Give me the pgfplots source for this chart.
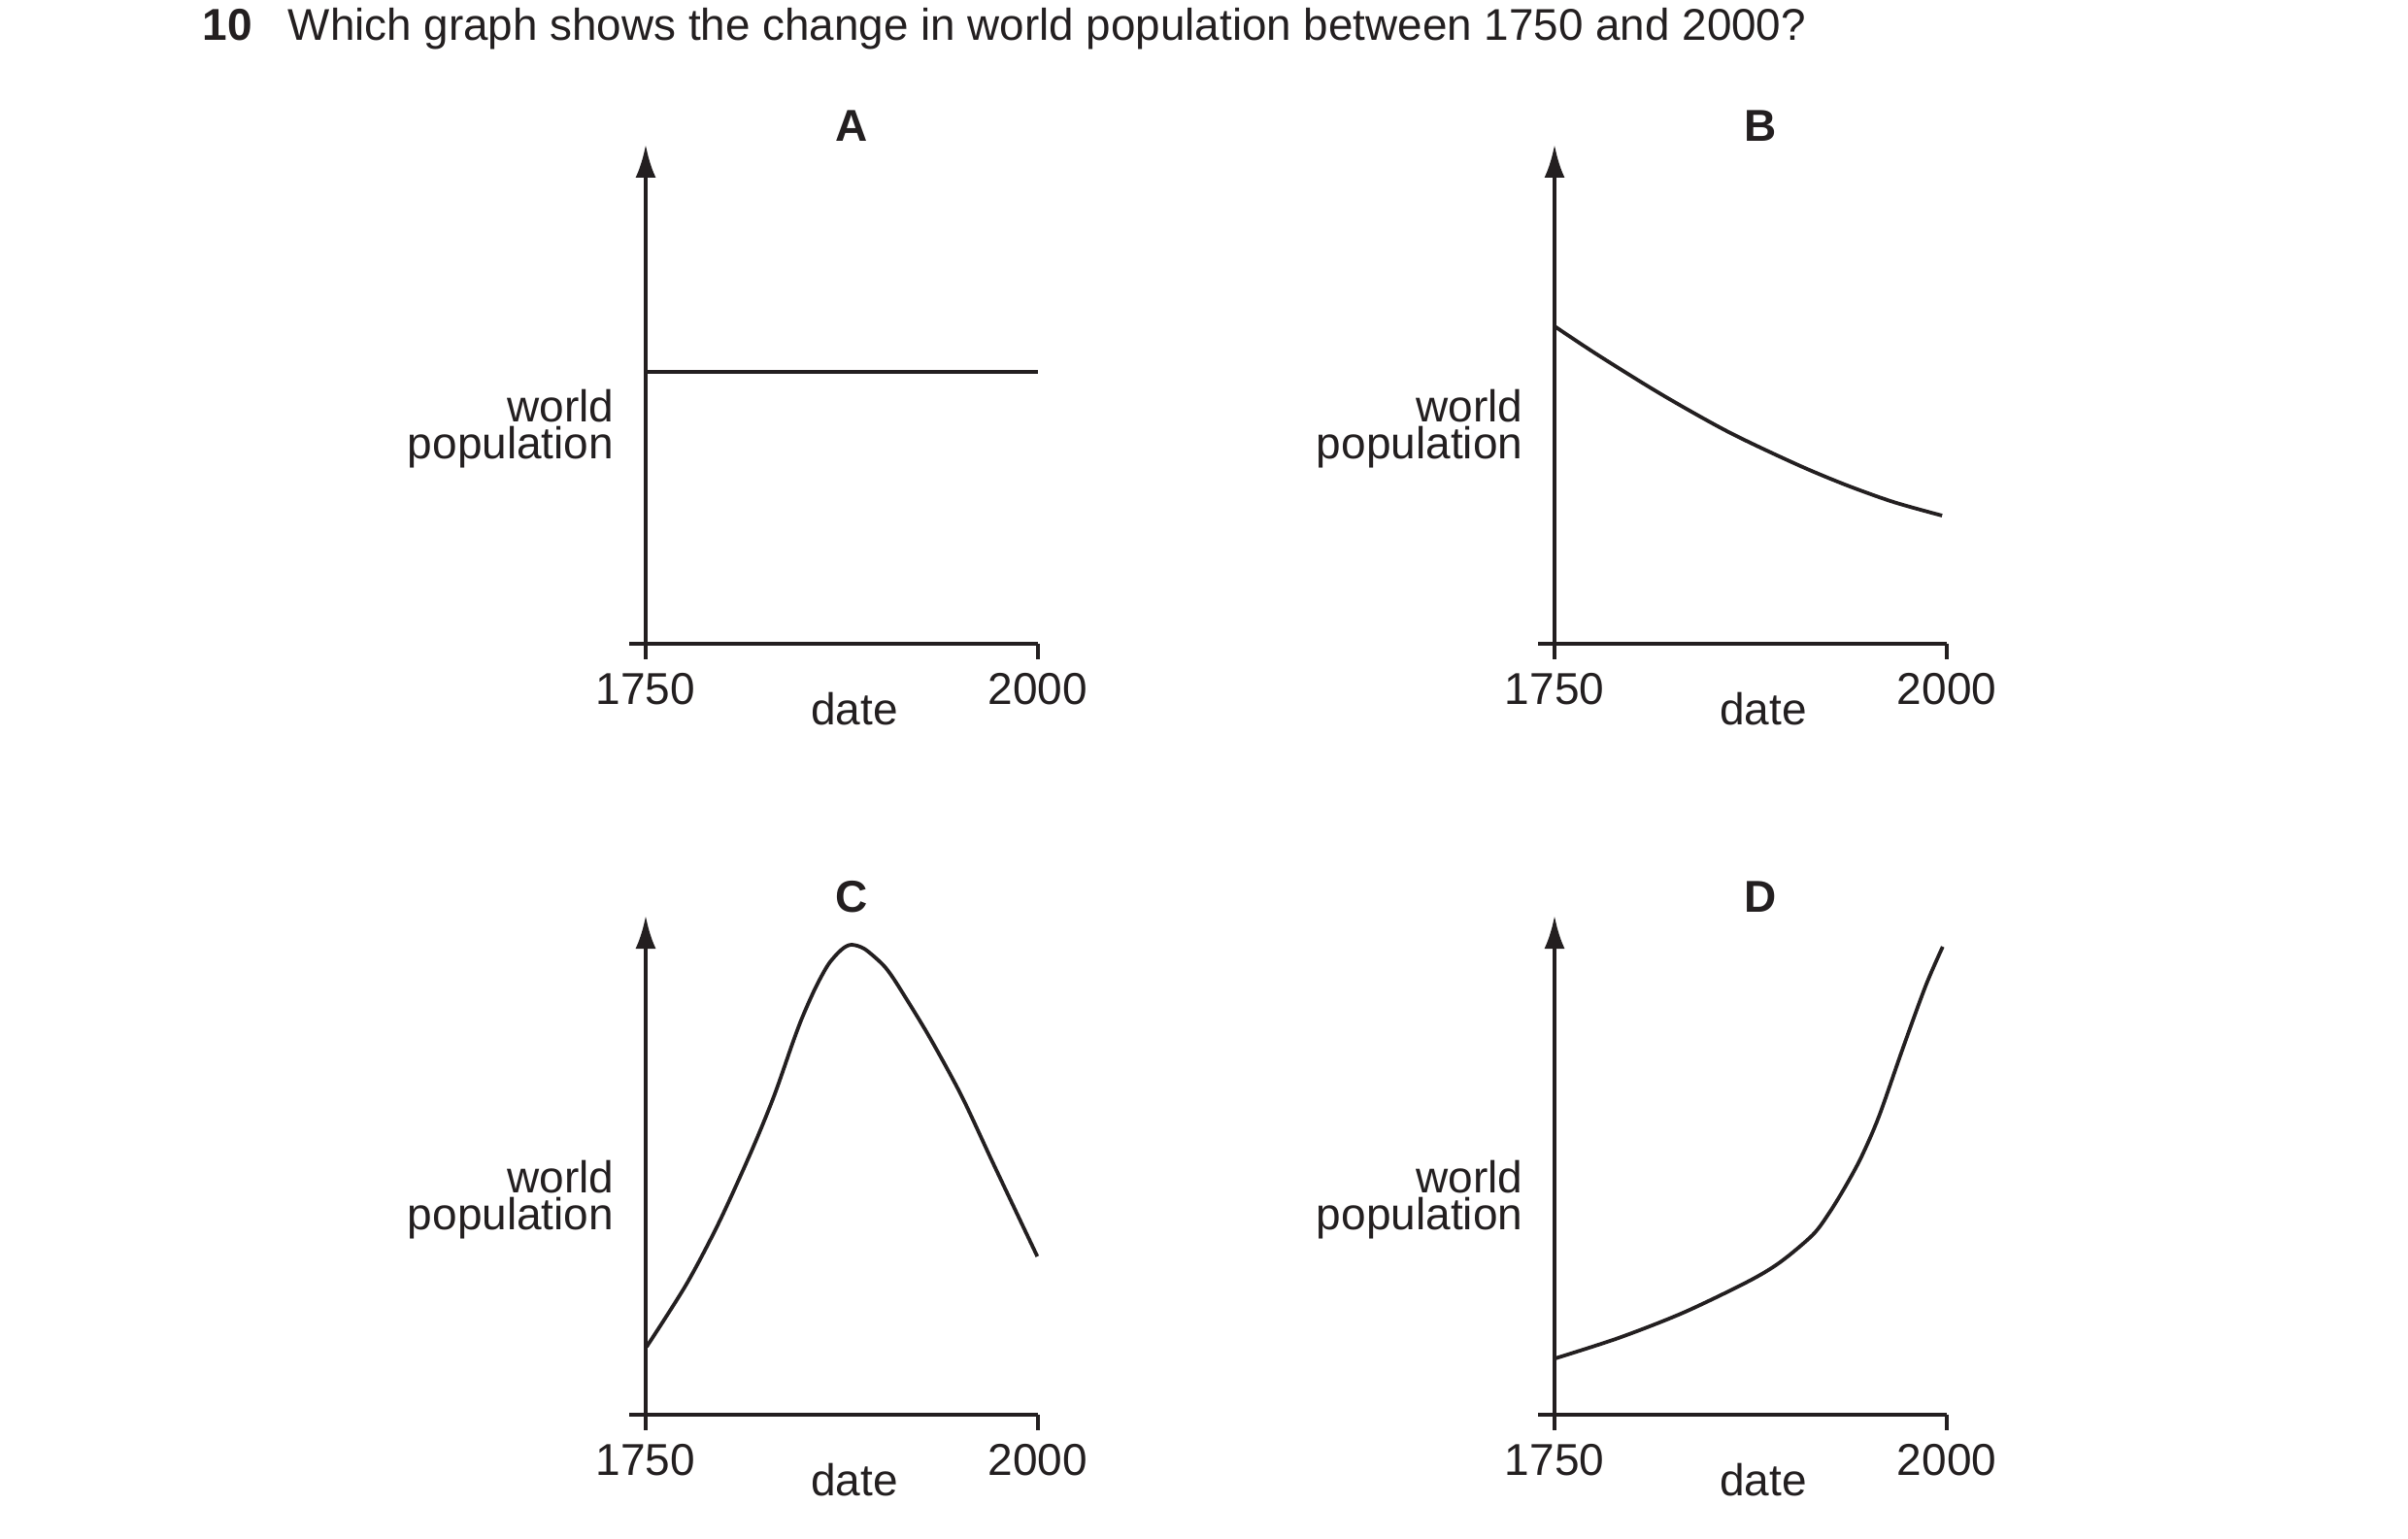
\documentclass[border=0pt]{standalone}
\usepackage{fontspec}
\setmainfont{Liberation Sans}
\usepackage{pgfplots}
\pgfplotsset{compat=1.18}
\usetikzlibrary{arrows.meta}

\definecolor{ink}{RGB}{35,31,32}
\newcommand\lbl{\fontsize{11.5}{9.5}\selectfont}
\newcommand\ttl{\fontsize{11.5}{13}\selectfont\bfseries}

% one panel: x in years, y in picture units above the x axis
\pgfplotsset{
  panel/.style={
    scale only axis, width=101pt, height=128.5pt,
    xmin=1750, xmax=2000, ymin=0, ymax=514,
    axis x line=bottom, axis y line=left,
    axis line style={line width=0.95pt, ink},
    x axis line style={-, shorten <=-4.25pt},
    y axis line style={-{Latex[length=8.5pt,width=5.25pt]}},
    xtick={1750,2000}, ytick=\empty,
    tick align=outside, major tick length=4pt,
    tick style={line width=0.95pt, ink},
    /pgf/number format/1000 sep={},
    /pgf/number format/assume math mode=true,
    tick label style={font=\lbl, text=ink},
    clip=false, anchor=south west,
  },
  curve/.style={no marks, smooth, line width=0.95pt, ink},
}

% labels shared by every panel
\newcommand\panellabels[1]{%
  \node[font=\ttl, text=ink] at (axis cs:1881,533) {#1};
  \node[font=\lbl, text=ink, anchor=base] at ([yshift=-20.75pt]axis cs:1883,0) {date};
  \node[font=\lbl, text=ink, align=right, anchor=base east, inner sep=0pt]
    at ([xshift=-8pt]axis cs:1750,191) {world\\population};
}

\begin{document}
\begin{tikzpicture}
\path[use as bounding box] (0,0) rectangle (620pt,-396pt);

\node[anchor=base west, inner sep=0, font=\ttl, text=ink] at (208*0.25pt,-42*0.25pt) {10};
\node[anchor=base west, inner sep=0, font=\fontsize{11.45}{13}\selectfont, text=ink] at (296*0.25pt,-42*0.25pt)
  {Which graph shows the change in world population between 1750 and 2000?};

% A
\begin{axis}[panel, at={(665*0.25pt,-663*0.25pt)}]
  \addplot[curve] coordinates {(1750,280) (2000,280)};
  \panellabels{A}
\end{axis}

% B
\begin{axis}[panel, at={(1601*0.25pt,-663*0.25pt)}]
  \addplot[curve] coordinates {(1750,327) (1778,297) (1819,256) (1861,218) (1904,185)
    (1935,164) (1966,146) (1997,132)};
  \panellabels{B}
\end{axis}

% C
\begin{axis}[panel, at={(665*0.25pt,-1457*0.25pt)}]
  \addplot[curve] coordinates {(1750.6,70) (1775.8,134) (1796.4,197) (1817,270) (1831.5,327) (1843.9,384)
    (1850,410) (1858.3,440) (1866.5,464) (1874.8,479) (1881,484) (1889.2,480) (1899.6,466)
    (1905,456) (1912,439) (1930.5,390) (1951.1,329) (1971.7,258) (1999.6,163)};
  \panellabels{C}
\end{axis}

% D
\begin{axis}[panel, at={(1601*0.25pt,-1457*0.25pt)}]
  \addplot[curve] coordinates {(1750.4,58) (1790.7,79) (1831.9,105) (1873.1,137) (1893.7,157)
    (1914.4,185) (1924.7,207) (1935,234) (1945.4,265) (1956.7,307) (1971.9,377)
    (1986.6,442) (1997.4,482)};
  \panellabels{D}
\end{axis}
\end{tikzpicture}
\end{document}
